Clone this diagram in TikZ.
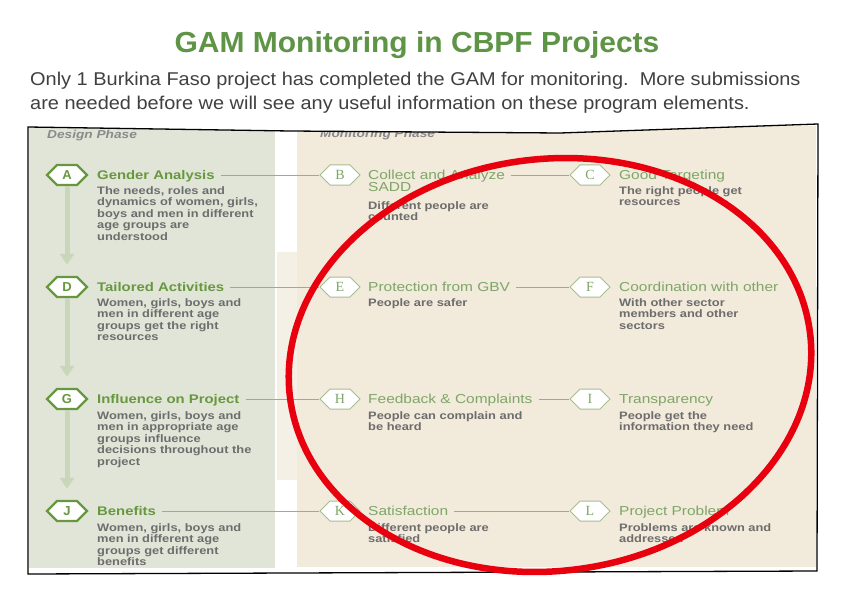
\documentclass[tikz,border=0pt]{standalone}
\usepackage{fontspec}
\setmainfont{Liberation Sans}
\newfontfamily\serifletter{Liberation Serif}
\newfontfamily\infofont[FakeStretch=1.19]{Liberation Sans}
\newfontfamily\subfont[FakeStretch=1.078]{Liberation Sans}
\usetikzlibrary{shapes.symbols,arrows.meta}
\definecolor{titlegreen}{HTML}{5E9445}
\definecolor{subgray}{HTML}{404040}
\definecolor{dpanel}{HTML}{E1E5D8}
\definecolor{mpanel}{HTML}{F2EADB}
\definecolor{mstrip}{HTML}{F5F0E6}
\definecolor{dgreen}{HTML}{67983F}
\definecolor{mgreen}{HTML}{7EA667}
\definecolor{hexm}{HTML}{A7BE92}
\definecolor{vgreen}{HTML}{C8D7B9}
\definecolor{hgreen}{HTML}{94B37F}
\definecolor{descgray}{HTML}{6D6D6D}
\definecolor{phasegray}{HTML}{8A8A8A}
\definecolor{redmark}{HTML}{E8000E}
\tikzset{
  dhex/.style={signal, signal to=east and west, signal pointer angle=90,
    minimum width=40pt, minimum height=20pt, inner sep=0pt, draw=dgreen,
    line width=2.4pt, fill=white, text=dgreen,
    font=\fontsize{13}{13}\selectfont\bfseries},
  mhex/.style={signal, signal to=east and west, signal pointer angle=90,
    minimum width=40pt, minimum height=20pt, inner sep=0pt, draw=hexm,
    line width=1pt, fill=white, text=mgreen,
    font=\fontsize{14}{14}\serifletter},
  dtitle/.style={anchor=base west, inner sep=0pt, text=dgreen,
    font=\infofont\fontsize{12.5}{14}\selectfont\bfseries},
  mtitle/.style={anchor=base west, inner sep=0pt, text=mgreen,
    font=\infofont\fontsize{13}{14}\selectfont},
  desc/.style={anchor=north west, inner sep=0pt, align=left, text=descgray,
    font=\infofont\fontsize{10.8}{11.6}\selectfont\bfseries},
  hline/.style={draw=hgreen, line width=0.9pt},
  vline/.style={draw=vgreen, line width=5pt,
    -{Triangle[width=14pt,length=11pt]}, shorten >=11pt},
  phase/.style={anchor=base west, inner sep=0pt, text=phasegray,
    font=\infofont\fontsize{11.5}{12}\selectfont\bfseries\itshape},
  frame/.style={draw=black, line width=1.3pt},
  redring/.style={draw=redmark, line width=6.5pt}
}
\begin{document}
\begin{tikzpicture}[x=1pt,y=-1pt]
\useasboundingbox (0,0) rectangle (842,596);
\fill[white] (0,0) rectangle (842,596);

% heading
\node[anchor=base, inner sep=0pt, text=titlegreen,
  font=\fontsize{29}{34}\selectfont\bfseries] (title) at (417,52.5)
  {\scalebox{1.034}[1]{GAM Monitoring in CBPF Projects}};
\node[anchor=base west, inner sep=0pt, text=subgray,
  font=\subfont\fontsize{18.5}{24}\selectfont] (sub1) at (30,86)
  {Only 1 Burkina Faso project has completed the GAM for monitoring.\ \ More submissions};
\node[anchor=base west, inner sep=0pt, text=subgray,
  font=\subfont\fontsize{18.5}{24}\selectfont] (sub2) at (30,110)
  {are needed before we will see any useful information on these program elements.};

% panels
\fill[dpanel] (29,126) rectangle (275,568);
\fill[mpanel] (297,126) rectangle (816,567);
\fill[mstrip] (277,252) rectangle (297,480);

\node[phase] (dphase) at (47,138.5) {Design Phase};
\node[phase] (mphase) at (320,138) {Monitoring Phase};
% white above the frame's top edge
\fill[white] (20,118) -- (830,118) -- (830,124) -- (818,124) -- (560,133) -- (290,131) -- (28,127) -- (20,127) -- cycle;

% hexagons
\node[dhex] (hA) at (67,175) {A};
\node[dhex] (hD) at (67,287) {D};
\node[dhex] (hG) at (67,399) {G};
\node[dhex] (hJ) at (67,511) {J};
\node[mhex] (hB) at (340,175) {B};
\node[mhex] (hE) at (340,287) {E};
\node[mhex] (hH) at (340,399) {H};
\node[mhex] (hK) at (340,511) {K};
\node[mhex] (hC) at (590,175) {C};
\node[mhex] (hF) at (590,287) {F};
\node[mhex] (hI) at (590,399) {I};
\node[mhex] (hL) at (590,511) {L};

% vertical connectors
\draw[vline] (hA.south) -- (hD.north);
\draw[vline] (hD.south) -- (hG.north);
\draw[vline] (hG.south) -- (hJ.north);

% design column texts
\node[dtitle] (tA) at (97,179.5) {Gender Analysis};
\node[desc] (dA) at (97,186) {The needs, roles and\\dynamics of women, girls,\\boys and men in different\\age groups are\\understood};
\node[dtitle] (tD) at (97,291.5) {Tailored Activities};
\node[desc] (dD) at (97,298) {Women, girls, boys and\\men in different age\\groups get the right\\resources};
\node[dtitle] (tG) at (97,403.5) {Influence on Project};
\node[desc] (dG) at (97,411) {Women, girls, boys and\\men in appropriate age\\groups influence\\decisions throughout the\\project};
\node[dtitle] (tJ) at (97,515.5) {Benefits};
\node[desc] (dJ) at (97,523) {Women, girls, boys and\\men in different age\\groups get different\\benefits};

% monitoring column 1
\node[mtitle] (tB) at (368,179.5) {Collect and Analyze};
\node[mtitle] (tB2) at (368,191.5) {SADD};
\node[desc] (dB) at (368,201) {Different people are\\counted};
\node[mtitle] (tE) at (368,291.5) {Protection from GBV};
\node[desc] (dE) at (368,298) {People are safer};
\node[mtitle] (tH) at (368,403.5) {Feedback \& Complaints};
\node[desc] (dH) at (368,411) {People can complain and\\be heard};
\node[mtitle] (tK) at (368,515.5) {Satisfaction};
\node[desc] (dK) at (368,523) {Different people are\\satisfied};

% monitoring column 2
\node[mtitle] (tC) at (619,179.5) {Good Targeting};
\node[desc] (dC) at (619,186) {The right people get\\resources};
\node[mtitle] (tF) at (619,291.5) {Coordination with other};
\node[desc] (dF) at (619,298) {With other sector\\members and other\\sectors};
\node[mtitle] (tI) at (619,403.5) {Transparency};
\node[desc] (dI) at (619,411) {People get the\\information they need};
\node[mtitle] (tL) at (619,515.5) {Project Problem};
\node[desc] (dL) at (619,523) {Problems are known and\\addressed};

% horizontal connectors
\draw[hline] ([xshift=6pt]tA.east |- hB.west) -- (hB.west);
\draw[hline] ([xshift=6pt]tD.east |- hE.west) -- (hE.west);
\draw[hline] ([xshift=6pt]tG.east |- hH.west) -- (hH.west);
\draw[hline] ([xshift=6pt]tJ.east |- hK.west) -- (hK.west);
\draw[hline] ([xshift=6pt]tB.east |- hC.west) -- (hC.west);
\draw[hline] ([xshift=6pt]tE.east |- hF.west) -- (hF.west);
\draw[hline] ([xshift=6pt]tH.east |- hI.west) -- (hI.west);
\draw[hline] ([xshift=6pt]tK.east |- hL.west) -- (hL.west);

% frame
\draw[frame] (28,127) -- (290,131) -- (560,133) -- (818,124) -- (817,571) -- (28,574) -- cycle;

% red ring
\draw[redring, rotate around={7:(550,365)}] (550,365) ellipse [x radius=262pt, y radius=206pt];
\end{tikzpicture}
\end{document}
